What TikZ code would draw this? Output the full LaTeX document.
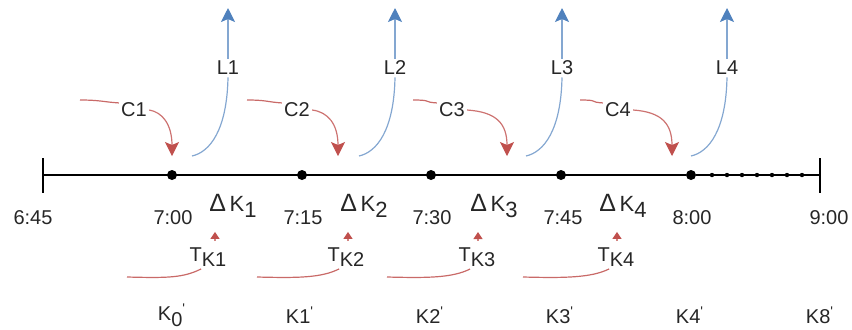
\documentclass[tikz,border=0pt]{standalone}
\usepackage{fontspec}
\setmainfont{Liberation Sans}
\usepackage{xcolor}
\usepackage{tikz}
\usetikzlibrary{
  arrows.meta
}

\definecolor{linered}{RGB}{192,80,77}
\definecolor{lineblue}{RGB}{79,129,189}
\newcommand{\lowsub}[1]{\raisebox{-0.5ex}{#1}}
\newcommand{\kprime}{\textsuperscript{\textquotesingle}}

\begin{document}
\begin{tikzpicture}[x=0.5pt,y=-0.5pt,
  every node/.style={font=\fontsize{10}{12}\selectfont,inner sep=1pt,text=black!85},
  timedot/.style={circle,fill=black,inner sep=0pt,minimum size=5pt},
  redcurve/.style={linered!85,line width=0.6pt},
  redarrow/.style={linered!80,line width=0.6pt,-{Stealth[length=7pt,width=7pt,inset=1.5pt,color=linered]}},
  smallarrow/.style={linered!70,line width=0.6pt,-{Triangle[length=3.5pt,width=4.5pt,color=linered]}},
  bluecurve/.style={lineblue!70,line width=0.6pt},
  bluearrow/.style={lineblue!70,line width=0.6pt,-{Stealth[length=7pt,width=7pt,inset=1.5pt,color=lineblue]}}
]
  \useasboundingbox (0,0) rectangle (852,329);

  % Draw time axis
  \coordinate (p0) at (43,175);
  \coordinate (p6) at (820,175);
  \foreach \n/\x in {1/172,2/302,3/431,4/561,5/691}{
    \node[timedot] (p\n) at (\x,175) {};
  }
  \draw[line width=1pt] (p0) -- (p5);
  \draw[line width=0.6pt] (p5) -- (p6);
  \foreach \x in {712,727,...,802}{
    \fill (\x,175) circle (2.2);
  }
  \draw[line width=1pt] (p0) ++(0,-17) -- ++(0,35);
  \draw[line width=1pt] (p6) ++(0,-17) -- ++(0,35);

  % Time labels
  \foreach \n/\x/\t in {0/33/6:45,1/173/7:00,2/303/7:15,3/432/7:30,4/563/7:45,5/692/8:00,6/829/9:00}{
    \node (tl\n) at (\x,218) {\t};
  }

  % Intervals and their inputs T
  \foreach \i/\dx/\tx/\ax/\sx in {1/233/208/215/127,2/364/346/348/257,3/494/477/478/387,4/623/616/617/523}{
    \node[font=\fontsize{11}{12}\selectfont] (dk\i) at (\dx,206) {{\fontsize{12.5}{12}\selectfont Δ}\,K\lowsub{\i}};
    \node (tk\i) at (\tx,257) {T\lowsub{K\i}};
    \coordinate (ux\i) at (\ax,0);
    \coordinate (ts\i) at (\sx,277);
    \draw[redcurve] (ts\i) .. controls (\sx+40,278) and (\tx-25,278) .. (tk\i.-120);
    \draw[smallarrow,shorten <=2pt,shorten >=6pt] (tk\i.north -| ux\i) -- (dk\i.south -| ux\i);
  }

  % Incoming C at the dots
  \foreach \i/\sx/\cx/\tx in {1/80/134/172,2/247/297/338,3/413/452/507,4/580/618/672}{
    \coordinate (cs\i) at (\sx,100);
    \node (c\i) at (\cx,110) {C\i};
    \coordinate (ct\i) at (\tx,156);
    \draw[redcurve] (cs\i) .. controls (\sx+20,100) and (\cx-30,102) .. (c\i.155);
    \draw[redarrow] (c\i.east) .. controls (\tx-10,112) and (\tx,124) .. (ct\i);
  }

  % Outgoing L
  \foreach \i/\lx in {1/228,2/395,3/562,4/727}{
    \coordinate (bs\i) at (\lx-36,156);
    \node (l\i) at (\lx,68) {L\i};
    \coordinate (lt\i) at (\lx,8);
    \draw[bluecurve] (bs\i) .. controls (\lx-18,152) and (\lx-1,130) .. (l\i.south);
    \draw[bluearrow] (l\i.north) -- (lt\i);
  }

  % K labels
  \foreach \n/\x/\t in {0/172/K\lowsub{0},1/300/K1,2/430/K2,3/560/K3,4/690/K4,8/820/K8}{
    \node (k\n) at (\x,315) {\t\kprime};
  }
\end{tikzpicture}
\end{document}
